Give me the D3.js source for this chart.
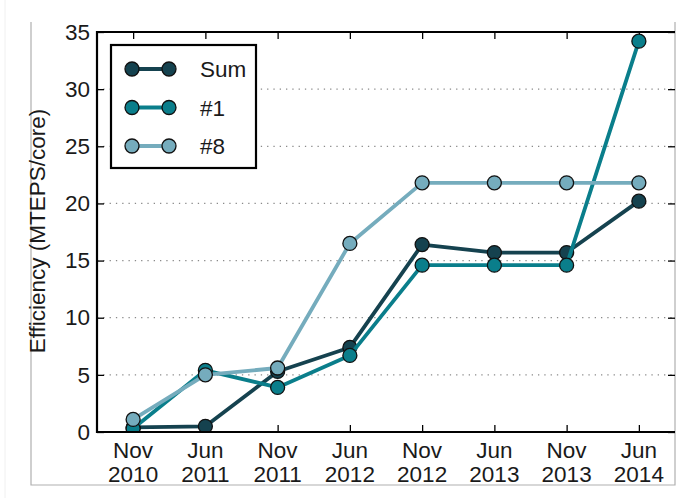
<!DOCTYPE html>
<html>
<head>
<meta charset="utf-8">
<script src="https://cdn.jsdelivr.net/npm/d3@7"></script>
<style>
  html, body { margin: 0; padding: 0; background: #fff; }
  svg { display: block; font-family: "Liberation Sans", Arial, sans-serif; }
</style>
</head>
<body>
<svg id="chart" width="694" height="498"></svg>
<script>
// Release periods (two-line tick labels)
const periods = ["Nov 2010", "Jun 2011", "Nov 2011", "Jun 2012", "Nov 2012", "Jun 2013", "Nov 2013", "Jun 2014"];

// Efficiency in MTEPS per core
const sumValues   = [0.4, 0.5, 5.3, 7.4, 16.4, 15.7, 15.7, 20.2];
const rank1Values = [0.3, 5.4, 3.9, 6.7, 14.6, 14.6, 14.6, 34.2];
const rank8Values = [1.1, 5.0, 5.6, 16.5, 21.8, 21.8, 21.8, 21.8];

const yTicks = [0, 5, 10, 15, 20, 25, 30, 35];

const seriesList = [
  { name: "Sum", values: sumValues,   color: "#15424f" },
  { name: "#1",  values: rank1Values, color: "#0a7e8b" },
  { name: "#8",  values: rank8Values, color: "#75acbd" }
];

const fontSize = 22.5;
const svg = d3.select("#chart");
const plotLeft = 97, plotRight = 675, plotTop = 32, plotBottom = 432;

const x = d3.scalePoint().domain(periods).range([plotLeft, plotRight]).padding(0.5);
const y = d3.scaleLinear().domain([0, 35]).range([plotBottom, plotTop]);

// outer figure frame
svg.append("line").attr("x1", 5).attr("x2", 5).attr("y1", 0).attr("y2", 498)
  .attr("stroke", "#f0f0f0").attr("stroke-width", 1);
svg.append("path")
  .attr("d", `M31,22 V485 H675 V22`)
  .attr("fill", "none").attr("stroke", "#b0b0b0").attr("stroke-width", 1.2);

// dotted horizontal grid
svg.append("g").selectAll("line")
  .data(yTicks.filter(t => t > 0 && t < 35))
  .join("line")
  .attr("x1", plotLeft).attr("x2", plotRight)
  .attr("y1", d => y(d)).attr("y2", d => y(d))
  .attr("stroke", "#8a8a8a").attr("stroke-width", 1.3)
  .attr("stroke-dasharray", "1.3,5");

// ticks via d3 axes, pointing inward
const tickLen = 7;
const axisLeft = d3.axisLeft(y).tickValues(yTicks).tickSize(-tickLen).tickPadding(7).tickFormat(d3.format("d"));
const gL = svg.append("g").attr("transform", `translate(${plotLeft},0)`).call(axisLeft);
gL.select(".domain").remove();
gL.selectAll("line").attr("stroke", "#000").attr("stroke-width", 1.3);
gL.selectAll("text").attr("font-size", fontSize).attr("fill", "#1a1a1a").attr("font-family", "Liberation Sans, Arial, sans-serif");

const axisRight = d3.axisRight(y).tickValues(yTicks).tickSize(-tickLen).tickFormat("");
const gR = svg.append("g").attr("transform", `translate(${plotRight},0)`).call(axisRight);
gR.select(".domain").remove();
gR.selectAll("line").attr("stroke", "#000").attr("stroke-width", 1.3);

const axisBottom = d3.axisBottom(x).tickSize(-tickLen).tickFormat("");
const gB = svg.append("g").attr("transform", `translate(0,${plotBottom})`).call(axisBottom);
gB.select(".domain").remove();
gB.selectAll("line").attr("stroke", "#000").attr("stroke-width", 1.3);

const axisTop = d3.axisTop(x).tickSize(-tickLen).tickFormat("");
const gT = svg.append("g").attr("transform", `translate(0,${plotTop})`).call(axisTop);
gT.select(".domain").remove();
gT.selectAll("line").attr("stroke", "#000").attr("stroke-width", 1.3);

// two-line x labels
const xl = svg.append("g").selectAll("text").data(periods).join("text")
  .attr("x", d => x(d)).attr("y", 458)
  .attr("text-anchor", "middle").attr("font-size", fontSize).attr("fill", "#1a1a1a");
xl.append("tspan").attr("x", d => x(d)).text(d => d.split(" ")[0]);
xl.append("tspan").attr("x", d => x(d)).attr("dy", 24).text(d => d.split(" ")[1]);

// y label
svg.append("text")
  .attr("transform", `translate(45,231) rotate(-90)`)
  .attr("text-anchor", "middle").attr("font-size", fontSize).attr("fill", "#1a1a1a")
  .text("Efficiency (MTEPS/core)");

// plot-area clip
svg.append("clipPath").attr("id", "plotClip")
  .append("rect").attr("x", plotLeft).attr("y", plotTop)
  .attr("width", plotRight - plotLeft).attr("height", plotBottom - plotTop);

const plot = svg.append("g").attr("clip-path", "url(#plotClip)");
const line = d3.line().x((d, i) => x(periods[i])).y(d => y(d));

seriesList.forEach(s => {
  const g = plot.append("g");
  g.append("path").datum(s.values).attr("d", line)
    .attr("fill", "none").attr("stroke", s.color).attr("stroke-width", 3.8)
    .attr("stroke-linejoin", "round");
  g.selectAll("circle").data(s.values).join("circle")
    .attr("cx", (d, i) => x(periods[i])).attr("cy", d => y(d)).attr("r", 7)
    .attr("fill", s.color).attr("stroke", "#111").attr("stroke-width", 1.3);
});

// spines: left, bottom, top
svg.append("path")
  .attr("d", `M${plotRight},${plotTop} H${plotLeft} V${plotBottom} H${plotRight}`)
  .attr("fill", "none").attr("stroke", "#000").attr("stroke-width", 2.2);

// legend
const lg = svg.append("g");
lg.append("rect").attr("x", 111).attr("y", 45).attr("width", 145).attr("height", 123)
  .attr("fill", "#fff").attr("stroke", "#000").attr("stroke-width", 2.2);
seriesList.forEach((s, i) => {
  const cy = 69 + i * 38.5;
  lg.append("line").attr("x1", 132).attr("x2", 169).attr("y1", cy).attr("y2", cy)
    .attr("stroke", s.color).attr("stroke-width", 3.8);
  [132, 169].forEach(cx => lg.append("circle").attr("cx", cx).attr("cy", cy).attr("r", 7)
    .attr("fill", s.color).attr("stroke", "#111").attr("stroke-width", 1.3));
  lg.append("text").attr("x", 200).attr("y", cy + 8).attr("font-size", fontSize).attr("fill", "#1a1a1a")
    .text(s.name);
});
</script>
</body>
</html>
